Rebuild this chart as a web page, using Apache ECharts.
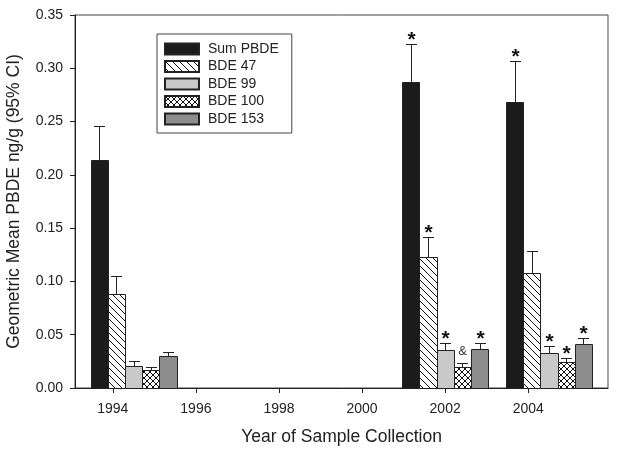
<!DOCTYPE html>
<html>
<head>
<meta charset="utf-8">
<script src="https://cdn.jsdelivr.net/npm/echarts@6/dist/echarts.min.js"></script>
<style>
html,body{margin:0;padding:0;background:#fff;}
#chart{width:618px;height:454px;}
</style>
</head>
<body>
<div id="chart"></div>
<script>
// ---- data ----
const groupX = [1994.5, 2002, 2004.5];           // x position (year) of each sample group
const xTickValues = [1994, 1996, 1998, 2000, 2002, 2004];
const seriesNames = ['Sum PBDE', 'BDE 47', 'BDE 99', 'BDE 100', 'BDE 153'];

const sumPBDE      = [0.214, 0.287, 0.268];
const sumPBDEUpper = [0.246, 0.323, 0.307];
const bde47        = [0.088, 0.123, 0.108];
const bde47Upper   = [0.105, 0.142, 0.129];
const bde99        = [0.021, 0.036, 0.033];
const bde99Upper   = [0.025, 0.042, 0.039];
const bde100       = [0.017, 0.020, 0.024];
const bde100Upper  = [0.020, 0.023, 0.028];
const bde153       = [0.030, 0.037, 0.041];
const bde153Upper  = [0.034, 0.042, 0.047];

const sumPBDEMarks = ['', '*', '*'];
const bde47Marks   = ['', '*', ''];
const bde99Marks   = ['', '*', '*'];
const bde100Marks  = ['', '&', '*'];
const bde153Marks  = ['', '*', '*'];

// ---- styles ----
const FONT = 'Liberation Sans, Arial, sans-serif';
const INK = '#222';
const barW = 0.414; // bar width in years

function hatchCanvas(size, back, fwd) {
  const c = document.createElement('canvas');
  c.width = size; c.height = size;
  const g = c.getContext('2d');
  g.fillStyle = '#fff'; g.fillRect(0, 0, size, size);
  g.strokeStyle = '#111'; g.lineWidth = 1;
  for (let k = -size; k <= size; k += size) {
    if (back) { g.beginPath(); g.moveTo(k, 0); g.lineTo(k + size, size); g.stroke(); }
    if (fwd)  { g.beginPath(); g.moveTo(k, size); g.lineTo(k + size, 0); g.stroke(); }
  }
  return c;
}
const fills = [
  '#1b1b1b',
  { image: hatchCanvas(7, true, false), repeat: 'repeat' },
  '#c9c9c9',
  { image: hatchCanvas(6, true, true), repeat: 'repeat' },
  '#8d8d8d'
];

const values = [sumPBDE, bde47, bde99, bde100, bde153];
const uppers = [sumPBDEUpper, bde47Upper, bde99Upper, bde100Upper, bde153Upper];
const marks  = [sumPBDEMarks, bde47Marks, bde99Marks, bde100Marks, bde153Marks];

function makeSeries(si) {
  const data = groupX.map((x, i) => [x, values[si][i], uppers[si][i]]);
  return {
    type: 'custom',
    name: seriesNames[si],
    itemStyle: { color: fills[si], borderColor: INK, borderWidth: 1 },
    encode: { x: 0, y: [1, 2] },
    data: data,
    renderItem: function (params, api) {
      const x = api.value(0), v = api.value(1), up = api.value(2);
      const cx = x + (si - 2) * barW;
      const pL = api.coord([cx - barW / 2, v]);
      const pR = api.coord([cx + barW / 2, 0]);
      const pC = api.coord([cx, v]);
      const pU = api.coord([cx, up]);
      const x0 = Math.round(pL[0]) + 0.5, x1 = Math.round(pR[0]) + 0.5;
      const yTop = Math.round(pL[1]) + 0.5, yBot = Math.round(pR[1]) + 0.5;
      const xc = Math.round(pC[0]) + 0.5, yu = Math.round(pU[1]) + 0.5;
      const children = [
        { type: 'line', shape: { x1: xc, y1: yTop, x2: xc, y2: yu }, style: { stroke: INK, lineWidth: 1 } },
        { type: 'line', shape: { x1: xc - 5.5, y1: yu, x2: xc + 5.5, y2: yu }, style: { stroke: INK, lineWidth: 1 } },
        { type: 'rect', shape: { x: x0, y: yTop, width: x1 - x0, height: yBot - yTop },
          style: { fill: fills[si], stroke: INK, lineWidth: 1 } }
      ];
      const m = marks[si][params.dataIndex];
      if (m === '*') {
        children.push({ type: 'text', x: xc, y: yu - 4,
          style: { text: '*', fill: '#111', font: 'bold 21px ' + FONT, align: 'center', verticalAlign: 'middle' } });
      } else if (m === '&') {
        children.push({ type: 'text', x: xc, y: yu - 12,
          style: { text: '&', fill: '#333', font: '13px ' + FONT, align: 'center', verticalAlign: 'middle' } });
      }
      return { type: 'group', children: children };
    }
  };
}

const chart = echarts.init(document.getElementById('chart'), null, { renderer: 'canvas' });
chart.setOption({
  backgroundColor: '#fff',
  animation: false,
  textStyle: { fontFamily: FONT },
  grid: { left: 75, right: 10, top: 15, bottom: 66, outerBoundsMode: 'none', containLabel: false,
    show: true, borderColor: '#444', borderWidth: 1, backgroundColor: 'transparent' },
  legend: {
    orient: 'vertical', left: 157, top: 34,
    padding: [8, 13, 7, 7],
    itemWidth: 34, itemHeight: 11, itemGap: 3.5,
    icon: 'rect',
    borderColor: '#444', borderWidth: 1,
    textStyle: { fontSize: 14, color: INK, lineHeight: 14, padding: [0, 0, 0, 4], fontFamily: FONT },
    data: seriesNames
  },
  xAxis: {
    type: 'value', min: 1993.09, max: 2005.92,
    name: 'Year of Sample Collection', nameLocation: 'middle', nameGap: 40,
    nameTextStyle: { fontSize: 17.5, color: INK, fontFamily: FONT },
    axisLine: { show: true, lineStyle: { color: INK, width: 1 } },
    axisTick: { show: true, inside: false, length: 5, lineStyle: { color: INK }, customValues: xTickValues },
    axisLabel: { show: true, margin: 14, fontSize: 14, color: INK, fontFamily: FONT, customValues: xTickValues,
      formatter: v => String(Math.round(v)) },
    splitLine: { show: false }
  },
  yAxis: {
    type: 'value', min: 0, max: 0.35, interval: 0.05,
    name: 'Geometric Mean PBDE ng/g (95% CI)', nameLocation: 'middle', nameGap: 52,
    nameTextStyle: { fontSize: 17.5, color: INK, fontFamily: FONT },
    axisLine: { show: true, lineStyle: { color: INK, width: 1 } },
    axisTick: { show: true, inside: false, length: 5, lineStyle: { color: INK } },
    axisLabel: { margin: 12, fontSize: 14, color: INK, fontFamily: FONT, formatter: v => v.toFixed(2) },
    splitLine: { show: false }
  },
  series: [0, 1, 2, 3, 4].map(makeSeries)
});
</script>
</body>
</html>
